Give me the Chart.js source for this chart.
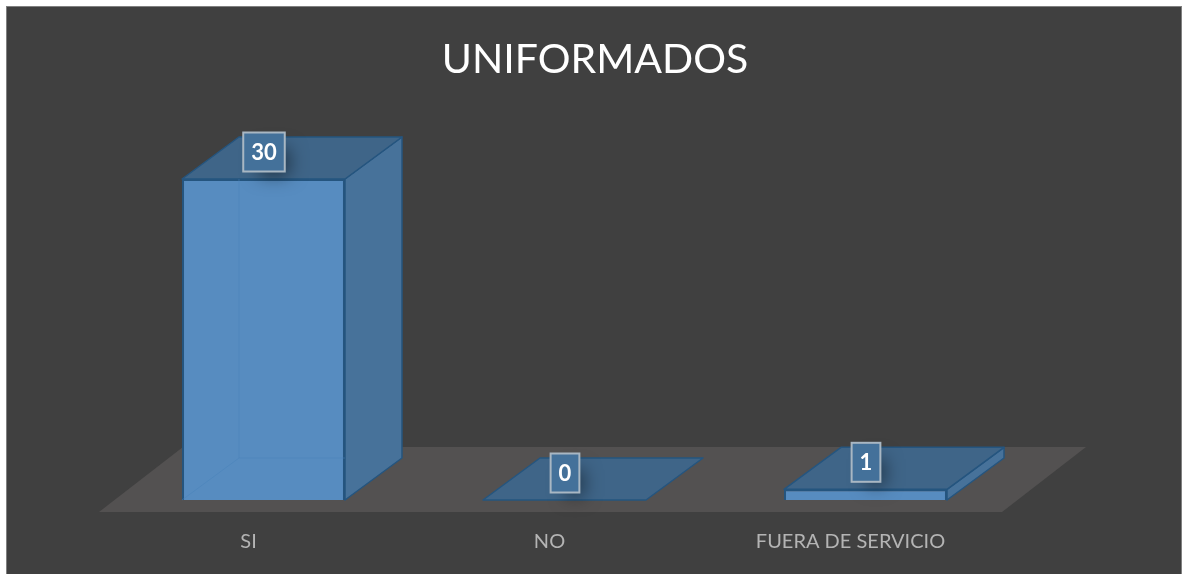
<!DOCTYPE html>
<html lang="es">
<head>
    <meta charset="UTF-8">
    <title>Uniformados</title>
    <script src="https://cdn.jsdelivr.net/npm/chart.js"></script>
    <style>
        html, body { margin: 0; height: 100%; overflow: hidden; background: white; }
        #frame {
            position: absolute;
            left: 6px;
            top: 6px;
            width: 1174px;
            height: 568px;
            background: #404040;
            border: 1px solid #808080;
            border-bottom: none;
        }
        canvas { position: absolute; left: 0; top: 0; }
    </style>
</head>
<body>
    <div id="frame"></div>
    <canvas id="chart" width="1187" height="574"></canvas>
    <script>
        const categories = ['SI', 'NO', 'FUERA DE SERVICIO'];
        const values = [30, 0, 1];
        const chartTitle = 'UNIFORMADOS';

        // depth of the fake 3D box
        const depthX = 57;
        const depthY = 42;
        const edgeColor = '#25557f';

        // floor and the side/top faces go under the bars
        const box3d = {
            id: 'box3d',
            beforeDatasetsDraw(chart) {
                const { ctx, chartArea } = chart;
                const base = chart.scales.y.getPixelForValue(0);
                ctx.save();
                ctx.fillStyle = '#535151';
                ctx.beginPath();
                ctx.moveTo(chartArea.left - 14, base + 12);
                ctx.lineTo(chartArea.right - 14, base + 12);
                ctx.lineTo(chartArea.right + 70, base - 53);
                ctx.lineTo(chartArea.left + 70, base - 53);
                ctx.closePath();
                ctx.fill();

                ctx.strokeStyle = edgeColor;
                ctx.lineWidth = 1.5;
                ctx.lineJoin = 'round';
                chart.getDatasetMeta(0).data.forEach(bar => {
                    const left = bar.x - bar.width / 2;
                    const right = bar.x + bar.width / 2;
                    const top = bar.y;
                    const bottom = bar.base;

                    // side
                    if (bottom - top > 0) {
                        ctx.fillStyle = '#47729a';
                        ctx.beginPath();
                        ctx.moveTo(right, top);
                        ctx.lineTo(right + depthX, top - depthY);
                        ctx.lineTo(right + depthX, bottom - depthY);
                        ctx.lineTo(right, bottom);
                        ctx.closePath();
                        ctx.fill();
                        ctx.stroke();
                    }

                    // top
                    ctx.fillStyle = '#3f6588';
                    ctx.beginPath();
                    ctx.moveTo(left, top);
                    ctx.lineTo(left + depthX, top - depthY);
                    ctx.lineTo(right + depthX, top - depthY);
                    ctx.lineTo(right, top);
                    ctx.closePath();
                    ctx.fill();
                    ctx.stroke();
                });
                ctx.restore();
            },
            afterDatasetsDraw(chart) {
                const { ctx } = chart;
                ctx.save();
                chart.getDatasetMeta(0).data.forEach((bar, i) => {
                    const left = bar.x - bar.width / 2;
                    const right = bar.x + bar.width / 2;

                    // back edges showing through the translucent front
                    if (bar.base - bar.y > 30) {
                        ctx.strokeStyle = 'rgba(72, 130, 186, 0.5)';
                        ctx.lineWidth = 1;
                        ctx.beginPath();
                        ctx.moveTo(left + depthX, bar.y);
                        ctx.lineTo(left + depthX, bar.base - depthY);
                        ctx.lineTo(right, bar.base - depthY);
                        ctx.moveTo(left + depthX, bar.base - depthY);
                        ctx.lineTo(left, bar.base);
                        ctx.stroke();
                    }

                    // value label box
                    const text = String(values[i]);
                    ctx.font = 'bold 22px Lato';
                    const w = ctx.measureText(text).width + 16;
                    const h = 39;
                    const x = bar.x + 0.5 - w / 2;
                    const y = bar.y - 27 - h / 2;

                    ctx.save();
                    ctx.shadowColor = 'rgba(0, 0, 0, 0.5)';
                    ctx.shadowBlur = 18;
                    ctx.shadowOffsetX = 10;
                    ctx.shadowOffsetY = 10;
                    ctx.fillStyle = '#44719a';
                    ctx.fillRect(x + 6, y + 6, w - 12, h - 12);
                    ctx.restore();

                    ctx.fillStyle = '#44719a';
                    ctx.fillRect(x, y, w, h);
                    ctx.strokeStyle = '#a9b7c3';
                    ctx.lineWidth = 2;
                    ctx.strokeRect(x, y, w, h);

                    ctx.fillStyle = '#ffffff';
                    ctx.textAlign = 'center';
                    ctx.textBaseline = 'middle';
                    ctx.fillText(text, x + w / 2, y + h / 2 + 1);
                });
                ctx.restore();
            },
            afterDraw(chart) {
                const { ctx } = chart;
                ctx.save();
                ctx.fillStyle = '#ffffff';
                ctx.font = '41px Lato';
                ctx.textAlign = 'center';
                ctx.textBaseline = 'middle';
                ctx.fillText(chartTitle, chart.width / 2 + 1.5, 60);
                ctx.restore();
            }
        };

        new Chart(document.getElementById('chart'), {
            type: 'bar',
            data: {
                labels: categories,
                datasets: [{
                    data: values,
                    backgroundColor: '#578cc0',
                    borderColor: edgeColor,
                    borderWidth: 2,
                    barPercentage: 0.5415,
                    categoryPercentage: 1
                }]
            },
            options: {
                responsive: false,
                animation: false,
                devicePixelRatio: 1,
                layout: { padding: { left: 113, right: 171, top: 179, bottom: 0 } },
                scales: {
                    y: { display: false, min: 0, max: 30 },
                    x: {
                        afterFit(scale) { scale.height = 74; },
                        grid: { display: false, tickLength: 0 },
                        border: { display: false },
                        ticks: {
                            color: '#b4b4b4',
                            font: { family: 'Lato', size: 20 },
                            padding: 30,
                            labelOffset: -15,
                            maxRotation: 0,
                            autoSkip: false
                        }
                    }
                },
                plugins: {
                    legend: { display: false },
                    tooltip: { enabled: false }
                }
            },
            plugins: [box3d]
        });
    </script>
</body>
</html>
